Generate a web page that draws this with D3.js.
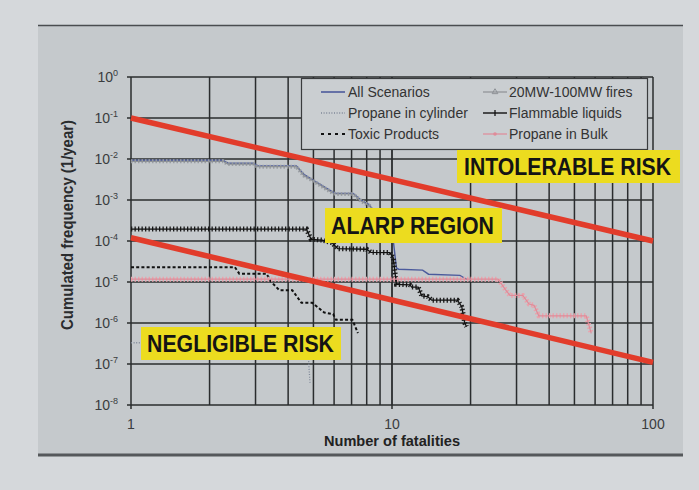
<html>
<head>
<meta charset="utf-8">
<script src="https://cdn.jsdelivr.net/npm/d3@7"></script>
<style>
  body { margin: 0; background: #d5d8db; }
  text { font-family: "Liberation Sans", Arial, sans-serif; }
</style>
</head>
<body>
<div id="viz"></div>
<script>
// ---- data ----
var xTicks = [1, 10, 100];
var yExponents = [0, -1, -2, -3, -4, -5, -6, -7, -8];

var allN = [1, 2.25, 2.35, 2.95, 3.05, 4.3, 4.6, 5.0, 5.9, 6.1, 7.1, 7.6, 8.2, 8.8, 9.9, 10.1, 10.4, 10.6, 13.1, 13.8, 18.2, 19.4];
var allF = [9.3e-3, 9.3e-3, 7.9e-3, 7.9e-3, 6.8e-3, 6.8e-3, 4.2e-3, 3.0e-3, 1.6e-3, 1.45e-3, 1.45e-3, 1.0e-3, 7.6e-4, 3.5e-4, 1.5e-4, 1.1e-4, 2.2e-5, 2.05e-5, 1.95e-5, 1.55e-5, 1.45e-5, 1.15e-5];

var firesN = [1, 2.25, 2.35, 2.95, 3.05, 4.3, 4.6, 5.0, 5.9, 6.1, 7.1, 7.6, 8.2, 8.6];
var firesF = [8.8e-3, 8.8e-3, 7.5e-3, 7.5e-3, 6.5e-3, 6.5e-3, 3.9e-3, 2.9e-3, 1.5e-3, 1.4e-3, 1.4e-3, 9.5e-4, 7.2e-4, 4.0e-4];

var cylN = [1, 4.75, 4.8, 4.85];
var cylF = [3.3e-7, 3.3e-7, 1.0e-7, 3.5e-8];

var toxicN = [1, 2.5, 2.6, 3.3, 3.45, 3.7, 4.15, 4.5, 4.95, 5.5, 5.95, 6.1, 7.05, 7.4];
var toxicF = [2.3e-5, 2.3e-5, 1.6e-5, 1.6e-5, 1.0e-5, 6.3e-6, 6.3e-6, 3.1e-6, 3.1e-6, 1.8e-6, 1.65e-6, 1.2e-6, 1.2e-6, 5.7e-7];

var flamN = [1, 4.7, 4.9, 5.4, 5.9, 6.2, 8.0, 8.3, 9.8, 10.1, 10.4, 11.7, 11.9, 12.6, 13.0, 13.7, 14.2, 17.8, 18.5, 19.0, 19.3];
var flamF = [1.95e-4, 1.95e-4, 1.1e-4, 1.05e-4, 9e-5, 6.5e-5, 6.3e-5, 5.3e-5, 5.2e-5, 4e-5, 8.8e-6, 8.5e-6, 7.5e-6, 7.5e-6, 4.6e-6, 4.4e-6, 3.6e-6, 3.6e-6, 2.5e-6, 1.0e-6, 8.2e-7];

var bulkN = [1, 25.5, 27.2, 28.3, 31.7, 33.5, 35, 36.5, 55.5, 58];
var bulkF = [1.17e-5, 1.17e-5, 6.5e-6, 4.7e-6, 4.7e-6, 2.9e-6, 2.7e-6, 1.5e-6, 1.5e-6, 5.6e-7];

var intolerableN = [1, 100];
var intolerableF = [1e-1, 1e-4];
var negligibleN = [1, 100];
var negligibleF = [1.2e-4, 1.1e-7];

var legendLabels = ["All Scenarios", "Propane in cylinder", "Toxic Products",
                    "20MW-100MW fires", "Flammable liquids", "Propane in Bulk"];
var regionLabels = ["INTOLERABLE RISK", "ALARP REGION", "NEGLIGIBLE RISK"];

// ---- drawing ----
var width = 699, height = 490;
var svg = d3.select("#viz").append("svg")
    .attr("width", width).attr("height", height);

svg.append("rect").attr("width", width).attr("height", height).attr("fill", "#d5d8db");
// panel
svg.append("rect").attr("x", 38).attr("y", 25).attr("width", 645).attr("height", 430).attr("fill", "#c5c9cc");
svg.append("line").attr("x1", 38).attr("x2", 683).attr("y1", 25.5).attr("y2", 25.5)
    .attr("stroke", "#4a4d50").attr("stroke-width", 1.5);
svg.append("line").attr("x1", 38).attr("x2", 683).attr("y1", 455).attr("y2", 455)
    .attr("stroke", "#55585b").attr("stroke-width", 3);

var x = d3.scaleLog().domain([1, 100]).range([131, 653]);
var y = d3.scaleLog().domain([1e-8, 1]).range([405, 77]);

// grid
var vGrid = [];
for (var d = 1; d <= 100; d *= 10) for (var k = 1; k < 10 && d * k <= 100; k++) vGrid.push(d * k);
svg.append("g").selectAll("line").data(vGrid).enter().append("line")
    .attr("x1", function(v){ return x(v); }).attr("x2", function(v){ return x(v); })
    .attr("y1", y(1)).attr("y2", y(1e-8))
    .attr("stroke", "#2a2c2e").attr("stroke-width", function(v){ return v === 10 ? 1.8 : 1.5; });
svg.append("g").selectAll("line").data(yExponents).enter().append("line")
    .attr("x1", x(1) - 4).attr("x2", x(100))
    .attr("y1", function(e){ return y(Math.pow(10, e)); }).attr("y2", function(e){ return y(Math.pow(10, e)); })
    .attr("stroke", "#2a2c2e").attr("stroke-width", 1.5);
// x ticks
svg.append("g").selectAll("line").data(xTicks).enter().append("line")
    .attr("x1", function(v){ return x(v); }).attr("x2", function(v){ return x(v); })
    .attr("y1", y(1e-8)).attr("y2", y(1e-8) + 4)
    .attr("stroke", "#2a2c2e").attr("stroke-width", 1.5);

// y tick labels with exponent
var yl = svg.append("g").selectAll("text").data(yExponents).enter().append("text")
    .attr("x", 118).attr("y", function(e){ return y(Math.pow(10, e)) + 5; })
    .attr("text-anchor", "end").attr("fill", "#3a3c3e").attr("font-size", 14);
yl.append("tspan").text("10");
yl.append("tspan").attr("dy", -6).attr("font-size", 9).text(function(e){ return e; });

svg.append("g").selectAll("text").data(xTicks).enter().append("text")
    .attr("x", function(v){ return x(v); }).attr("y", 429)
    .attr("text-anchor", "middle").attr("fill", "#3a3c3e").attr("font-size", 14)
    .text(function(v){ return v; });

svg.append("text").attr("x", 392).attr("y", 446).attr("text-anchor", "middle")
    .attr("font-size", 15).attr("font-weight", "bold").attr("fill", "#222")
    .attr("textLength", 136).attr("lengthAdjust", "spacingAndGlyphs")
    .text("Number of fatalities");
svg.append("text").attr("transform", "translate(73,225) rotate(-90)").attr("text-anchor", "middle")
    .attr("font-size", 16).attr("font-weight", "bold").attr("fill", "#2a2c2e")
    .attr("textLength", 210).attr("lengthAdjust", "spacingAndGlyphs")
    .text("Cumulated frequency (1/year)");

// series
function pts(n, f) { return n.map(function(v, i){ return [v, f[i]]; }); }
var line = d3.line().x(function(p){ return x(p[0]); }).y(function(p){ return y(p[1]); });

function series(n, f, color, w, dash, hatch) {
  var g = svg.append("g");
  if (hatch) {
    g.append("path").attr("d", line(pts(n, f))).attr("fill", "none")
      .attr("stroke", hatch.color).attr("stroke-width", hatch.width)
      .attr("stroke-dasharray", hatch.dash).attr("opacity", hatch.opacity || 1);
  }
  g.append("path").attr("d", line(pts(n, f))).attr("fill", "none")
    .attr("stroke", color).attr("stroke-width", w)
    .attr("stroke-dasharray", dash || null);
}

series(allN, allF, "#4b5a9c", 1.4);
series(firesN, firesF, "#8d9196", 1.2, null, {color: "#9a9ea3", width: 4, dash: "1.5 2"});
series(cylN, cylF, "#7f8898", 1.3, "1 1.6");
series(toxicN, toxicF, "#111", 2, "3 2.2");
series(flamN, flamF, "#111", 1.3, null, {color: "#1a1a1a", width: 5, dash: "1.3 2.2"});
series(bulkN, bulkF, "#e08b98", 1.2, null, {color: "#e9a3ad", width: 5, dash: "1.5 2"});

// risk criteria lines
[[intolerableN, intolerableF], [negligibleN, negligibleF]].forEach(function(s) {
  svg.append("path").attr("d", line(pts(s[0], s[1]))).attr("fill", "none")
    .attr("stroke", "#e23c2b").attr("stroke-width", 5.5);
});

// legend
var lg = svg.append("g");
lg.append("rect").attr("x", 301.5).attr("y", 78.5).attr("width", 346).attr("height", 71)
  .attr("fill", "#caced1").attr("stroke", "#3a3c3e").attr("stroke-width", 1.2);
var rowY = [92, 113, 134];
var sampleStyle = [
  {color: "#4b5a9c", w: 1.6},
  {color: "#7f8898", w: 1.3, dash: "1 1.6"},
  {color: "#111", w: 2, dash: "3 4"},
  {color: "#8d9196", w: 1.2, mark: "tri"},
  {color: "#111", w: 1.4, mark: "plus"},
  {color: "#e08b98", w: 1.2, mark: "dot"}
];
legendLabels.forEach(function(lab, i) {
  var col = i < 3 ? 0 : 1;
  var ry = rowY[i % 3];
  var x0 = col ? 483 : 321, x1 = col ? 507 : 345;
  var st = sampleStyle[i];
  lg.append("line").attr("x1", x0).attr("x2", x1).attr("y1", ry).attr("y2", ry)
    .attr("stroke", st.color).attr("stroke-width", st.w).attr("stroke-dasharray", st.dash || null);
  var cx = (x0 + x1) / 2;
  if (st.mark === "tri") lg.append("path").attr("d", d3.symbol(d3.symbolTriangle, 14)()).attr("transform", "translate(" + cx + "," + ry + ")").attr("fill", "none").attr("stroke", st.color);
  if (st.mark === "plus") lg.append("line").attr("x1", cx).attr("x2", cx).attr("y1", ry - 3).attr("y2", ry + 3).attr("stroke", st.color).attr("stroke-width", 1.3);
  if (st.mark === "dot") lg.append("circle").attr("cx", cx).attr("cy", ry).attr("r", 1.8).attr("fill", st.color);
  lg.append("text").attr("x", col ? 509 : 348).attr("y", ry + 5).attr("font-size", 14)
    .attr("fill", "#333").text(lab);
});

// region labels
var boxes = [
  {x: 457, y: 150, w: 223, h: 33, tx: 464, ty: 175, tl: 207},
  {x: 325, y: 208, w: 177, h: 35, tx: 331, ty: 234, tl: 163},
  {x: 141, y: 327, w: 200, h: 33, tx: 147, ty: 352, tl: 187}
];
regionLabels.forEach(function(lab, i) {
  var b = boxes[i];
  svg.append("rect").attr("x", b.x).attr("y", b.y).attr("width", b.w).attr("height", b.h).attr("fill", "#ecdc1f");
  svg.append("text").attr("x", b.tx).attr("y", b.ty).attr("font-size", 23).attr("font-weight", "bold")
    .attr("fill", "#141414").attr("textLength", b.tl).attr("lengthAdjust", "spacingAndGlyphs").text(lab);
});
</script>
</body>
</html>
